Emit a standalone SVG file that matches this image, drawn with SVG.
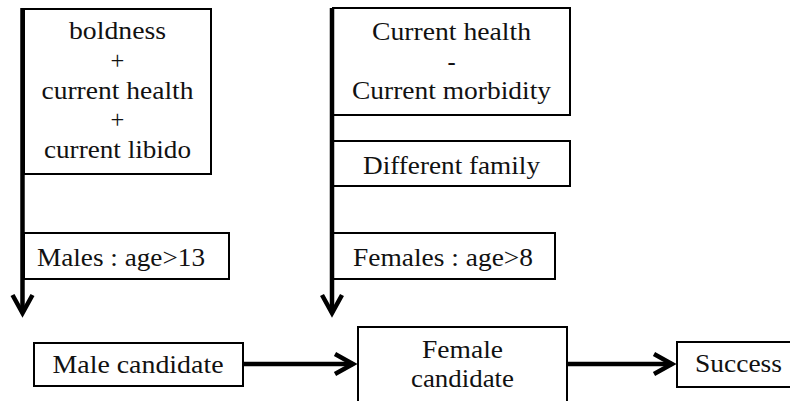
<svg xmlns="http://www.w3.org/2000/svg" width="790" height="401" viewBox="0 0 790 401">
  <style>
    .box { fill: #ffffff; stroke: #000000; stroke-width: 2; }
    .lbl { font-size: 24.5px; fill: #111111; }
    .mid { text-anchor: middle; }
    .flow { fill: none; stroke: #000000; stroke-width: 4.5; }
  </style>
  <defs>
    <marker id="chevron" markerUnits="userSpaceOnUse" markerWidth="40" markerHeight="40" refX="0" refY="0" orient="auto" overflow="visible">
      <path d="M-18,-10 L0,0 L-18,10" fill="none" stroke="#000000" stroke-width="4.5" stroke-linejoin="miter"/>
    </marker>
  </defs>

  <rect width="790" height="401" fill="#ffffff"/>

  <g font-family="'Liberation Serif', 'Times New Roman', Times, serif">
  <!-- male selection criteria -->
  <g id="male-score">
    <rect class="box" x="24" y="9" width="187" height="165"/>
    <text class="lbl mid" x="117.5" y="39" textLength="97" lengthAdjust="spacingAndGlyphs">boldness</text>
    <text class="lbl mid" x="117.5" y="69">+</text>
    <text class="lbl mid" x="117.5" y="98.5" textLength="152" lengthAdjust="spacingAndGlyphs">current health</text>
    <text class="lbl mid" x="117.5" y="128">+</text>
    <text class="lbl mid" x="117.5" y="158" textLength="147" lengthAdjust="spacingAndGlyphs">current libido</text>
  </g>

  <g id="male-age">
    <rect class="box" x="24" y="233" width="205" height="46"/>
    <text class="lbl" x="37" y="266" textLength="168" lengthAdjust="spacingAndGlyphs">Males : age&gt;13</text>
  </g>

  <g id="male-candidate">
    <rect class="box" x="34" y="343" width="209" height="43"/>
    <text class="lbl mid" x="138" y="373" textLength="171" lengthAdjust="spacingAndGlyphs">Male candidate</text>
  </g>

  <!-- female selection criteria -->
  <g id="female-score">
    <rect class="box" x="333" y="8" width="237" height="107"/>
    <text class="lbl mid" x="451.5" y="40" textLength="159" lengthAdjust="spacingAndGlyphs">Current health</text>
    <text class="lbl mid" x="451.5" y="69.5">-</text>
    <text class="lbl mid" x="451.5" y="99" textLength="199" lengthAdjust="spacingAndGlyphs">Current morbidity</text>
  </g>

  <g id="female-family">
    <rect class="box" x="333" y="141" width="237" height="45"/>
    <text class="lbl mid" x="451.5" y="173.5" textLength="177" lengthAdjust="spacingAndGlyphs">Different family</text>
  </g>

  <g id="female-age">
    <rect class="box" x="333" y="233" width="222" height="46"/>
    <text class="lbl" x="353" y="265.5" textLength="180" lengthAdjust="spacingAndGlyphs">Females : age&gt;8</text>
  </g>

  <g id="female-candidate">
    <rect class="box" x="358" y="327" width="209" height="85"/>
    <text class="lbl mid" x="462.5" y="358" textLength="81" lengthAdjust="spacingAndGlyphs">Female</text>
    <text class="lbl mid" x="462.5" y="387" textLength="103" lengthAdjust="spacingAndGlyphs">candidate</text>
  </g>

  <g id="success">
    <rect class="box" x="677" y="342" width="130" height="45"/>
    <text class="lbl" x="695" y="372" textLength="87" lengthAdjust="spacingAndGlyphs">Success</text>
  </g>
  </g>

  <!-- flow arrows -->
  <g id="connectors">
    <path class="flow" d="M22.5,8 L22.5,313" marker-end="url(#chevron)"/>
    <path class="flow" d="M332,8 L332,313" marker-end="url(#chevron)"/>
    <path class="flow" d="M243,364 L353,364" marker-end="url(#chevron)"/>
    <path class="flow" d="M567,364 L672,364" marker-end="url(#chevron)"/>
  </g>
</svg>
